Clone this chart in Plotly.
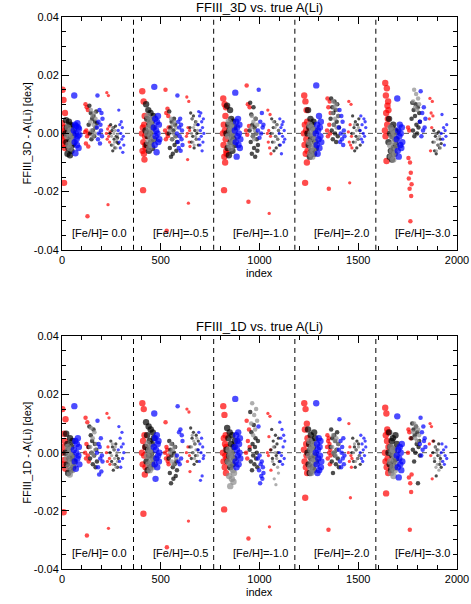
import plotly.graph_objects as go
import numpy as np

# y values in units of 0.001 dex, 15 sublists per colour: group 0..4, cluster (large, medium, small)
red_3d = [
    [3.5, -2, 15, 0, -4, 11.5, -1, -17, 2, -5, 7, 1, -3],
    [0.5, 10, -3.5, 1, 9, -1, -28.5, 8, -4.5, 0],
    [0, 14, -2, 1.5, -24.5, 13, -1, 2.5, -3, 0.5],
    [0, 14.5, -6, 2, -19.5, -3, 11, -7, 3, -9, 6, -1, -4, -5],
    [1, 15, -2, 7, -33.5, 0, 8.5, -1, 6, 2],
    [-1, 12.5, 0, -9, 2, -24, 11, -3, 1, -4.5],
    [0, 12, -4, 3, -19.5, -8, 10, 1, -10, 6, -2, 9, -6, -7],
    [1, 16.5, -0.5, 10, -23.5, 2.5, 9],
    [0, 8, -3, 1, -27.5, -5, 6.5, -1, -7],
    [0, 13, -4, 3, -17, 11, -7, 1, -2, 8, -10, 4, -6],
    [1, 12, -1, 9, -19, 3, 11, 0, 7],
    [0.5, 11, -3, -17, 3, -4, 10, -1, -5],
    [1, 17.3, -1, 13, 7, -9.5, 15.5, 3, 9.5, 5, 11, 8],
    [2, -8.5, -15.5, 1, -19, -10, -30.2, -13.5, -21.5, -17.5],
    [5, 12, -6, 7, 2, 11, 6],
]
black_3d = [
    [0, 4.5, -3, 2, -7, 1, -5, 4, -2, -7.5, 3, -1, -6, 2.5, -4, 0.5, -3.5, -0.5],
    [3, 9.5, 0, 7, -2, 5, 1, 6, -1, 4, 2, 7.5, 3.5],
    [0, 3, -4, 1, -6, 2, -2, -5, 2.5, -1, -3, -1.5, -3.5],
    [1, 10, -4, 5, -1, 8, -6, 3, 0, 7, -3, 4, -5, 2, 6, -2],
    [0, 7.5, -5, 2, -8, 4, -2, -7, 1, 5, -4, 3, -1, -6, -3],
    [2, 7, -3, 5, -1, 6, -5, 1, 4, -2, 0, 3, -4],
    [0, 9.5, -5, 3, -7.5, 1, 8, -3, 5, -1, -6, 4, -2, 2, -4],
    [1, 10.5, -3, 6.5, -7, 3, -1, 9, -5, 2, -8, 5, 0, -2, -6, -4],
    [0, 5, -3, 2, -6, 4, -1, -5, 3, -2, 1, -4],
    [0, 8, -4, 2, -8, 5, -2, -6, 3, -1, 4, -7, 1, -3, -5],
    [5, 12, 1, 9, -2, 7, 3, 11, 0, 8, -3, 4, 10, -1, 6, 2],
    [0, 6, -3, 2, -6, 4, -1, -5, 3, -2, 5, 1, -4],
    [-3, 5, -8, 0, -6, 2, -9, -1, 3, -5, -7, 1, -2, -4, 0.5],
    [5, 10.5, 1, 8, -1, 6, 10, 3, 0, 9, 2, 7, 4],
    [-3, 1, -6, -1, -7, 0, -4, 0.5, -5, -2, -3.5],
]
gray_3d = [
    [-1, 2, -4, 0, -5, 1, -3, -0.5, -2, -2.5],
    [4, 8, 1, 6, -1, 3, 7, 0, 5, 2],
    [-1, 2, -4, 0, -3, 1, -5, -2, -0.5],
    [0, 6, -3, 2, -5, 4, -1, 3, -4, 1, 5, -2],
    [1, 5, -2, 3, 0, 4, -1, 2],
    [0, 5, -3, 2, -4, 3, -1, 4, -2, 1],
    [-1, 4, -4, 1, -5, 2, -2, 3, 0, -3],
    [2, 6, -1, 4, -2, 1, 5, 0, 3],
    [0, 4, -3, 2, -1, 3, -2, 1],
    [-3, 3, -7, 0, -5, 2, -8, -1, -6, 1, -4, -2],
    [7, 11, 3, 9, 5, 10, 2, 8, 6],
    [0, 3, -3, 1, -2, 2, -1],
    [-4, 2, -8, -1, -6, 1, -9, -3, 0, -7, -2, -5],
    [11, 15, 9, 13.5, 8, 12, 10],
    [-3, 0, -6, -2, -4, -1, -5],
]
blue_3d = [
    [1, 13, -3, 3, -6.8, 0, 2.5, -2, -4, 3.5, -1, 2, -5, 1.5, -0.5],
    [2, 13, -2, 4, 0, 8, -3.5, 3, 1, 7, -1, 5],
    [1, 8, -3, 3, -5, 0, 4, -2, 2, -6.5, -1, -4],
    [2, 16, -4, 5, -1, 1, -6.5, 4, 0, 6, -3, 3, -2],
    [0, 13, -3, 4, -5, 2, -1, 5, -6, 3, -2, 1, -4],
    [3, 7.5, -2, 6, -4, 1, 7, -1, 4, -6, 2, -3, 5, 0],
    [1, 14, -3, 4, -8, 2, -1, 5, -4, 0, 3, -5, -2],
    [1, 15, -1.5, 4, 0, 7, 2, 3],
    [0, 5, -4, 2, -7, 3, -1, 4, -3, 1, -2],
    [0, 16.5, -4, 3, -7, 1, -2, 6, -5, 2, -1, 4, -3],
    [2, 8, -3, 0, 6, -2, 4, -4, 1, -1],
    [1, 6, -2, 3, -3, 0, 5, -1, 4, 2],
    [-2, 12, -6, 1, -8, -1, 3, -4, 0, -5, 2, -3],
    [4, 14.5, -1, 7, 1, 9, 2, 5],
    [0, 6.5, -2, 2, -4, 1, -1, 3],
]

red_1d = [
    [0, 15, -4, 2, -20.5, 6.5, -2.5, 4, -5.5, 11.5],
    [0, 12, -2, 3, -28.5, 10.5, -1, 2, -3],
    [0, 13.5, -3, 2, -26, 12, -2, -4],
    [0, 17, -4, 4, -21, 15, -1, 6, -7.5, 2, -5],
    [0, 10.5, -2, 2, -32.5, 1, -3, -1, -4],
    [0, 15, -3, 2, -23.5, 14, -1, -6.5],
    [0, 16, -3, 5, -19.5, 13, -5, 3, -1, 6, -7, 2, -2],
    [0, 11, -2, 4, -29.5, 8, 2],
    [0, 13.5, -1, 5.5, -25.5, 12.5, 1, -6],
    [1, 17, -3, 8, -15.5, 15, -5, 3, -1, 10, -7, 5],
    [2, 6, -2, 4, -26.5, 5, 0, 3, -4, 1, -1],
    [0, 10, -3, 2, -15.5, -1, -5, -2],
    [0, 15.5, -3, 6, -14, 13.5, -5, 4, 8, -2, 7, -7, 2],
    [0, 8, -8.5, 7, -26.5, -10.5, 5, -13.5, -7.5],
    [3, 10, -1, 9, -9, 4],
]
black_1d = [
    [0, 6.5, -4, 3, -7, 1, -2, 5, -6, 2, -1, 4, -5, -3],
    [2, 9, -2, 6, 0, 4, -4, 8, -1, 3, -5, 1, -3],
    [0, 4, -3, 2, -6, 1, -4, 3, -1, -5, -2],
    [2, 10.5, -3, 6, -6, 1, 9, -1, 4, -5, 8, 0, 3, -4, 7, -2, 5],
    [-2, 4, -7, 1, -10.5, -1, 3, -5, -9, 0, -4, 2, -8, -3, -6],
    [2, 8.5, -2, 5, 0, 7, -4, 3, -1, 6, -3, 1, 4],
    [1, 8.5, -3, 5, -1, 7, -5, 3, 0, 6, -4, 2, -2, 4],
    [1, 14, -3, 7, -6, 3, -1, 9.5, -4, 2, 5, -2, 0, -5, 4],
    [1, 8, -2, 4, -4, 2, 6, -1, 3, 0, 5, -3],
    [0, 8, -4, 3, -7, 1, 6, -2, 4, -5, 2, -6, 7, -1, 5, -3],
    [2, 8, -3, 5, -7, 0, 6, -1, 4, -4, 1, 7, -2, 3, -5],
    [0, 5, -3, 2, -5, 1, 4, -2, 3, -1, -4],
    [0, 7, -4, 2, -6, 4, -1, 5, -3, 1, -5, 6, -2, 3],
    [5, 10, 1, 8, -3, 6, 0, 9, 3, 7, -10.5, 2, 4, -1],
    [0, 4, -3, 2, -8, 1, -1, 3, -4, -2, -5],
]
gray_1d = [
    [-2, 2, -5, 0, -7.5, 1, -3, -1, -6, -4],
    [2, 8.5, 0, 5, -1, 7, 1, 3],
    [-1, 3, -4, 1, -2, 2, -5, 0, -3],
    [-1, 3, -4, 1, -6, 0, -3, 2, -5, -2],
    [0, 3, -3, 1, -4, 2, -1, -2],
    [2, 6, 0, 4, -2, 3, 1, 5, -1],
    [-3, 1, -8, -1, -11.5, -4, 0, -9, -2, -6, -10, -7],
    [10, 17, 6, 13, 8, 15, 11],
    [-3, 2, -9, 0, -11, -2, -5, -7],
    [-1, 4, -5, 1, -7, 2, -3, 0, -6, 3, -2, -4],
    [2, 6, 0, 4, -1, 5, 1, 3],
    [0, 3, -3, 1, -2, 2, -1],
    [-3, 2, -7, 0, -5, 1, -8, -2, -6, -1, -4],
    [7, 10, 5, 9, 4, 8, 6],
    [-2, 2, -5, 0, -4, 1, -6, -1, -3],
]
blue_1d = [
    [1, 16, -3, 4, -5.5, 0, 3, -2, 5, -1, 2, -4],
    [0, 11, -5, 3, -7.5, 2, -2, 5, -6.5, -1, -3],
    [1, 9, -3, 5, -5, 2, 7, -2, 3, 0],
    [2, 13.5, -4, 5, -9, 1, -2, 6, -5, 3, -1, 4, -3, 0],
    [-1, 16, -3, 7, -4, 8, -2, 6, 4],
    [1, 7, -3, 3, -9.5, 0, 5, -8, 2, -2, -1],
    [2, 18.5, -3, 6, -5, 1, 4, -1, 7, -4, 3, 0, 5, -2],
    [-2, 9, -6, -1, -10.5, -4, -8, -3, -9, -5, -7],
    [0, 10.5, -3, 5, -1, 8, -4, 2, 6, -2, 4],
    [0, 17, -4, 3, -7, 1, -2, 5, -6, 2, -1, 4, -5, -3],
    [1, 11.5, -3, 4, -5, 0, 2, -2, 5, -4, -1],
    [0, 6, -2, 3, -3, 1, 5, -1, 4, 2],
    [-1, 12.5, -5, 1, -8.5, -2, 2, -4, 0, -6, 3, -3],
    [3, 12, -1, 7, 1, 9, 4, 5, 2],
    [0, 3, -3, 1, -4, -1, 2, -2],
]

feh_labels = ["[Fe/H]= 0.0", "[Fe/H]=-0.5", "[Fe/H]=-1.0", "[Fe/H]=-2.0", "[Fe/H]=-3.0"]
label_x = [188, 598, 1005, 1416, 1823]
separators = [362, 768, 1179, 1589]
group_start = [0, 405, 815, 1225, 1635]
cluster_start = [0, 117, 225]
cluster_size = [6.4, 4.5, 3.3]
# index span of each colour inside a cluster
col_span = {"red": (0, 18), "black": (18, 60), "gray": (26, 56), "blue": (60, 88)}
col_rgb = {"red": "#ff0000", "black": "#000000", "gray": "#8c8c8c", "blue": "#0000ff"}

FONT = "Liberation Sans, Arial, sans-serif"
fig = go.Figure()


def add_panel(series, xa, ya):
    for name, cols in series:
        xs, ys, ss = [], [], []
        a, b = col_span[name]
        for k, vals in enumerate(cols):
            g, c = divmod(k, 3)
            base = group_start[g] + cluster_start[c]
            xs += list(base + np.linspace(a, b, len(vals)))
            ys += [v / 1000 for v in vals]
            ss += [cluster_size[c]] * len(vals)
        fig.add_trace(go.Scatter(x=xs, y=ys, mode="markers", xaxis=xa, yaxis=ya,
                                 marker=dict(color=col_rgb[name], size=ss, line=dict(width=0)),
                                 showlegend=False, hoverinfo="skip"))


add_panel([("red", red_3d), ("black", black_3d), ("gray", gray_3d), ("blue", blue_3d)], "x", "y")
add_panel([("red", red_1d), ("black", black_1d), ("gray", gray_1d), ("blue", blue_1d)], "x2", "y2")

top_dom = [0.5783, 1.0]
bot_dom = [0.0, 0.4214]

xax = dict(range=[0, 2000], tickvals=[0, 500, 1000, 1500, 2000], ticks="inside", ticklen=7,
           minor=dict(dtick=100, ticks="inside", ticklen=4, tickcolor="#000"),
           showline=True, linecolor="#000", linewidth=1, mirror="allticks", tickcolor="#000",
           showgrid=False, zeroline=False, automargin=False,
           tickfont=dict(family=FONT, size=11, color="#000"))
yax = dict(range=[-0.04, 0.04], tickvals=[-0.04, -0.02, 0, 0.02, 0.04],
           ticktext=["-0.04", "-0.02", "0.00", "0.02", "0.04"], ticks="inside", ticklen=7,
           minor=dict(dtick=0.005, ticks="inside", ticklen=4, tickcolor="#000"),
           showline=True, linecolor="#000", linewidth=1, mirror="allticks", tickcolor="#000",
           showgrid=False, zeroline=False, automargin=False,
           tickfont=dict(family=FONT, size=11, color="#000"))

fig.update_layout(
    width=471, height=604, margin=dict(l=62, r=14, t=17, b=35),
    paper_bgcolor="white", plot_bgcolor="white",
    xaxis=dict(xax, domain=[0, 1], anchor="y"),
    yaxis=dict(yax, domain=top_dom, anchor="x"),
    xaxis2=dict(xax, domain=[0, 1], anchor="y2"),
    yaxis2=dict(yax, domain=bot_dom, anchor="x2"),
)

shapes = []
annos = []
for xr, yr, dom, title, ylab in [("x", "y", top_dom, "FFIII_3D vs. true A(Li)", "FFIII_3D - A(Li) [dex]"),
                                 ("x2", "y2", bot_dom, "FFIII_1D vs. true A(Li)", "FFIII_1D - A(Li) [dex]")]:
    for s in separators:
        shapes.append(dict(type="line", xref=xr, yref=yr + " domain", x0=s, x1=s, y0=0, y1=1,
                           line=dict(color="#000", width=1, dash="5px,4px"), layer="below"))
    shapes.append(dict(type="line", xref=xr + " domain", yref=yr, x0=0, x1=1, y0=0, y1=0,
                       line=dict(color="#555", width=1, dash="5px,4px"), layer="below"))
    for t, lx in zip(feh_labels, label_x):
        annos.append(dict(text=t, x=lx, y=-0.0344, xref=xr, yref=yr, showarrow=False,
                          font=dict(family=FONT, size=11, color="#000")))
    annos.append(dict(text=title, x=0.5, y=dom[1], xref="paper", yref="paper", yanchor="bottom",
                      yshift=0, showarrow=False, font=dict(family=FONT, size=13, color="#000")))
    annos.append(dict(text="index", x=0.5, y=dom[0], xref="paper", yref="paper", yanchor="middle",
                      yshift=-23, showarrow=False, font=dict(family=FONT, size=11, color="#000")))
    annos.append(dict(text=ylab, x=0, y=(dom[0] + dom[1]) / 2, xref="paper", yref="paper",
                      xanchor="center", yanchor="middle", xshift=-35, textangle=-90, showarrow=False,
                      font=dict(family=FONT, size=11, color="#000")))

fig.update_layout(shapes=shapes, annotations=annos)
fig.write_html("out.html", config={"displayModeBar": False},
               post_script="document.body.style.margin='0';document.body.style.padding='0';")
